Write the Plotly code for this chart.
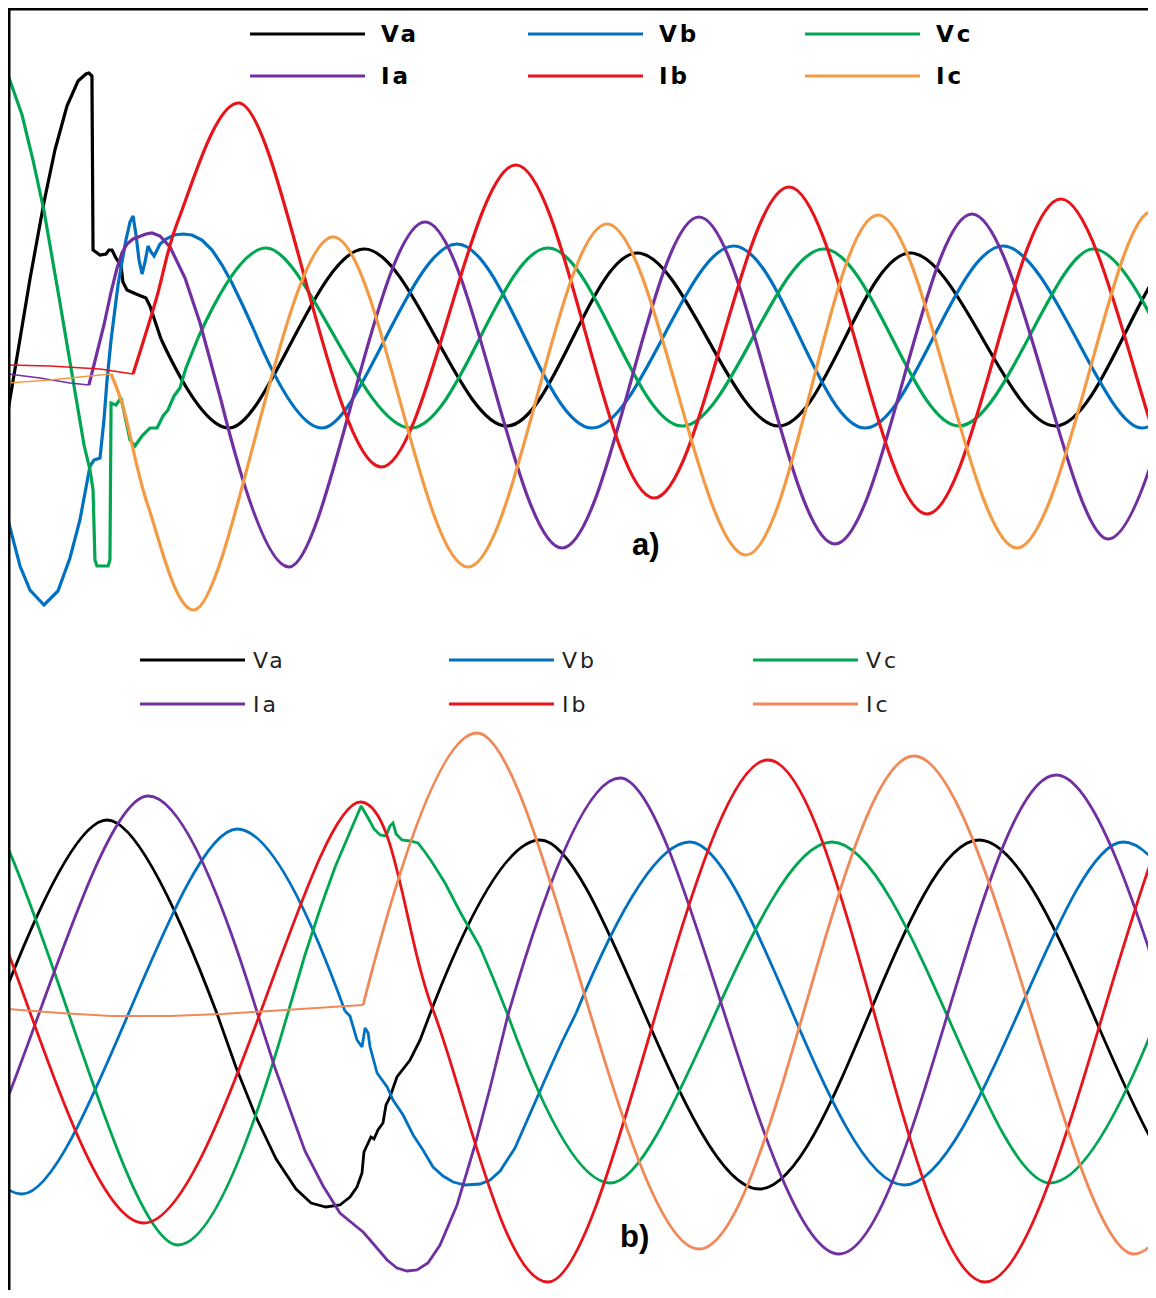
import plotly.graph_objects as go

# page has an 8 px body margin: the figure covers page pixels 8..1148 x 8..1290 (no overflow)
FW, FH = 1140, 1282
OFF = 8

# ---------------- colours ----------------
C_VA = "#000000"
C_VB = "#0070C0"
C_VC = "#00A651"
C_IA = "#7030A0"
C_IB = "#E8141B"
C_IC_A = "#F39A45"
C_IC_B = "#F08858"

LABELS_V = ["Va", "Vb", "Vc"]
LABELS_I = ["Ia", "Ib", "Ic"]

# ================= panel a) : time in ms, voltage in kV, current in kA =================
a_va_tr_t = [0.00, 1.03, 1.61, 2.64, 3.44, 4.32, 5.13, 5.71, 5.93, 6.15, 6.23, 6.74, 7.18, 7.40, 7.62, 7.91, 8.28, 8.42, 8.72, 9.38, 10.11, 10.40, 10.77, 11.21]
a_va_tr_v = [-7.2, 1.2, 6.0, 13.7, 18.9, 23.3, 25.8, 26.5, 26.6, 26.3, 8.9, 8.4, 8.5, 8.9, 8.9, 8.1, 7.3, 5.7, 4.9, 4.5, 4.1, 3.3, 1.7, 0.0]
a_va_sm_t = [11.21, 16.19, 26.08, 36.56, 46.08, 56.48, 66.08, 76.78, 86.08, 91.06]
a_va_sm_v = [0.0, -8.9, 9.0, -8.7, 8.6, -8.7, 8.6, -8.7, 8.8, 0.0]

a_vb_tr_t = [0.00, 0.88, 1.61, 2.64, 3.66, 4.54, 5.27, 5.64, 6.01, 6.30, 6.74, 7.03, 7.25, 7.55, 7.84, 8.06, 8.35, 8.64, 8.94, 9.16, 9.38, 9.60, 9.82, 10.04, 10.26, 10.48, 10.70, 10.92, 11.14, 11.58, 12.16, 12.82, 13.48, 14.21, 14.95, 15.68, 16.41, 17.22, 18.02]
a_vb_tr_v = [-18.1, -22.7, -25.1, -26.6, -25.2, -21.9, -18.1, -15.3, -12.7, -12.1, -11.9, -8.1, -4.2, -0.1, 2.9, 5.4, 7.7, 9.9, 11.7, 12.3, 10.4, 7.9, 6.5, 7.7, 9.3, 8.7, 8.3, 8.9, 9.5, 10.0, 10.4, 10.5, 10.4, 9.9, 8.9, 7.4, 5.6, 3.3, 0.9]
a_vb_sm_t = [18.02, 23.00, 32.89, 42.78, 53.19, 62.78, 72.89, 83.08, 88.06]
a_vb_sm_v = [0.9, -8.9, 9.5, -8.9, 9.3, -8.9, 9.3, -8.9, 0.2]

a_vc_tr_t = [0.00, 1.03, 1.83, 2.64, 3.81, 4.84, 5.57, 6.01, 6.23, 6.37, 6.52, 7.33, 7.47, 7.55, 7.91, 8.28, 8.57, 8.94, 9.30, 9.82, 10.40, 10.92, 11.36, 11.72, 12.16, 12.60, 13.04, 13.48, 13.92]
a_vc_tr_v = [26.4, 22.4, 17.9, 12.8, 3.6, -4.9, -10.6, -13.1, -15.1, -22.1, -22.7, -22.7, -22.1, -6.4, -6.6, -5.9, -7.6, -10.1, -10.7, -9.7, -8.9, -8.9, -7.7, -7.1, -5.7, -4.9, -2.9, -1.5, 0.1]
a_vc_sm_t = [13.92, 18.90, 29.52, 39.56, 49.38, 59.78, 69.67, 79.49, 84.47]
a_vc_sm_v = [0.1, 9.1, -8.9, 9.1, -8.7, 9.0, -8.7, 9.0, 0.2]

a_ia_pre_t = [0.00, 2.34, 4.54, 5.93]
a_ia_pre_i = [0.04, 0.00, -0.05, -0.07]
a_ia_tr_t = [5.93, 6.45, 7.03, 7.55, 7.99, 8.35, 8.72, 9.16, 9.67, 10.11, 10.55, 11.14, 11.87, 12.97, 14.07, 14.80, 15.60]
a_ia_tr_i = [-0.07, 0.22, 0.53, 0.86, 1.10, 1.25, 1.34, 1.39, 1.42, 1.44, 1.45, 1.42, 1.31, 1.00, 0.55, 0.19, -0.22]
a_ia_sm_t = [15.60, 20.59, 30.55, 40.59, 50.62, 60.59, 70.62, 80.59, 85.57]
a_ia_sm_i = [-0.22, -1.89, 1.56, -1.70, 1.61, -1.66, 1.64, -1.61, 0.01]

a_ib_pre_t = [0.00, 3.08, 6.74, 9.16]
a_ib_pre_i = [0.13, 0.12, 0.09, 0.04]
a_ib_sm_t = [9.16, 10.84, 12.45, 16.92, 27.33, 37.22, 47.33, 57.22, 67.33, 77.14, 87.11, 92.09]
a_ib_sm_i = [0.04, 0.78, 1.57, 2.75, -0.89, 2.13, -1.20, 1.91, -1.36, 1.79, -1.44, 0.16]

a_ic_pre_t = [0.00, 3.08, 6.01, 7.55]
a_ic_pre_i = [-0.05, -0.02, 0.02, 0.04]
a_ic_sm_t = [7.55, 8.35, 10.26, 13.63, 23.81, 33.70, 43.88, 54.07, 63.74, 73.92, 83.74, 88.72]
a_ic_sm_i = [0.04, -0.25, -1.28, -2.32, 1.41, -1.89, 1.54, -1.77, 1.63, -1.70, 1.66, -0.02]

# ================= panel b) =================
b_va_a_t = [-0.50, 4.53, 9.57]
b_va_a_v = [0.05, 9.70, 0.00]
b_va_tr_t = [9.57, 10.43, 11.35, 12.27, 13.18, 13.87, 14.55, 15.19, 15.65, 15.97, 16.20, 16.29, 16.48, 16.61, 16.75, 16.93, 17.16, 17.30, 17.48, 17.80, 18.40, 18.86, 19.31]
b_va_tr_v = [0.00, -2.65, -5.15, -7.25, -8.75, -9.45, -9.65, -9.55, -9.15, -8.65, -7.95, -6.90, -6.45, -6.15, -6.25, -5.80, -5.45, -4.55, -4.15, -3.15, -2.30, -1.30, 0.00]
b_va_c_t = [19.31, 24.35, 34.37, 44.44, 54.46, 59.50]
b_va_c_v = [0.00, 8.70, -8.75, 8.70, -8.75, 0.00]

b_vb_a_t = [-4.26, 0.64, 10.48, 15.42]
b_vb_a_v = [0.15, -9.00, 9.25, 0.15]
b_vb_tr_t = [15.42, 15.65, 15.97, 16.20, 16.34, 16.48, 16.57, 16.89, 17.35, 17.62, 18.08, 18.54, 18.99, 19.45, 19.91, 20.37, 20.92, 21.60, 22.06, 22.52, 23.20, 24.03, 24.81, 25.35, 26.00]
b_vb_tr_v = [0.15, -0.10, -1.30, -1.65, -0.70, -0.95, -1.65, -2.95, -3.65, -4.30, -5.05, -6.05, -6.80, -7.65, -8.10, -8.40, -8.55, -8.50, -8.30, -7.85, -6.70, -4.60, -2.70, -1.40, 0.05]
b_vb_c_t = [26.00, 31.21, 41.01, 51.03, 56.06]
b_vb_c_v = [0.05, 8.60, -8.55, 8.60, 0.05]

b_vc_a_t = [-7.23, -2.24, 7.78, 12.81]
b_vc_a_v = [0.05, 11.65, -11.55, 0.05]
b_vc_tr_t = [12.81, 13.59, 14.28, 14.97, 15.65, 16.16, 16.48, 16.75, 17.03, 17.30, 17.48, 17.62, 17.76, 18.03, 18.40, 18.76, 19.08, 19.40, 20.00, 20.69, 21.60, 22.20, 22.84]
b_vc_tr_v = [0.05, 2.95, 5.25, 7.35, 9.10, 10.40, 9.80, 9.25, 8.95, 8.90, 9.40, 9.55, 9.00, 8.70, 8.65, 8.55, 8.10, 7.60, 6.55, 5.10, 3.35, 1.80, 0.05]
b_vc_c_t = [22.84, 27.55, 37.71, 47.69, 52.68]
b_vc_c_v = [0.05, -8.45, 8.60, -8.45, 0.05]

b_ia_a_t = [-8.65, -3.62, 6.41, 11.44]
b_ia_a_i = [-0.03, -2.22, 2.16, -0.03]
b_ia_tr_t = [11.44, 12.22, 12.91, 13.59, 14.42, 15.19, 15.97, 16.25, 16.57, 16.89, 17.35, 17.80, 18.26, 18.72, 19.22, 19.77, 20.55, 21.37, 22.06, 22.88]
b_ia_tr_i = [-0.03, -0.56, -0.98, -1.39, -1.74, -2.01, -2.15, -2.20, -2.28, -2.36, -2.48, -2.56, -2.59, -2.58, -2.51, -2.33, -1.93, -1.33, -0.76, -0.03]
b_ia_c_t = [22.88, 28.01, 38.03, 47.96, 57.99, 63.02]
b_ia_c_i = [-0.03, 2.34, -2.42, 2.37, -2.42, -0.03]

b_ib_t = [-8.83, -3.80, 6.22, 16.16, 19.45, 24.71, 34.78, 44.71, 54.78, 59.82]
b_ib_i = [0.00, 2.11, -2.11, 2.10, 0.02, -2.70, 2.52, -2.70, 2.42, -0.08]

b_ic_pre_t = [0.00, 2.38, 4.71, 7.41, 9.79, 12.91, 16.25]
b_ic_pre_i = [0.03, -0.01, -0.04, -0.04, -0.02, 0.02, 0.07]
b_ic_sm_t = [16.25, 21.46, 31.62, 41.46, 51.53, 56.57]
b_ic_sm_i = [0.07, 2.79, -2.37, 2.56, -2.42, 0.07]

# ---------------- figure ----------------
fig = go.Figure()


def add(t, v, color, width, shape, xa, ya):
    line = dict(color=color, width=width, shape=shape)
    if shape == "spline":
        line["smoothing"] = 1.0
    fig.add_trace(go.Scatter(x=t, y=v, mode="lines", line=line, xaxis=xa, yaxis=ya,
                             showlegend=False, hoverinfo="skip"))


WA = 3.2
WB = 2.8
# panel a voltages
add(a_va_tr_t, a_va_tr_v, C_VA, WA, "linear", "x", "y")
add(a_va_sm_t, a_va_sm_v, C_VA, WA, "spline", "x", "y")
add(a_vb_tr_t, a_vb_tr_v, C_VB, WA, "linear", "x", "y")
add(a_vb_sm_t, a_vb_sm_v, C_VB, WA, "spline", "x", "y")
add(a_vc_tr_t, a_vc_tr_v, C_VC, WA, "linear", "x", "y")
add(a_vc_sm_t, a_vc_sm_v, C_VC, WA, "spline", "x", "y")
# panel a currents
add(a_ia_pre_t, a_ia_pre_i, C_IA, 1.6, "linear", "x", "y2")
add(a_ia_tr_t, a_ia_tr_i, C_IA, WA, "linear", "x", "y2")
add(a_ia_sm_t, a_ia_sm_i, C_IA, WA, "spline", "x", "y2")
add(a_ib_pre_t, a_ib_pre_i, C_IB, 1.6, "linear", "x", "y2")
add(a_ib_sm_t, a_ib_sm_i, C_IB, WA, "spline", "x", "y2")
add(a_ic_pre_t, a_ic_pre_i, C_IC_A, 1.6, "linear", "x", "y2")
add(a_ic_sm_t, a_ic_sm_i, C_IC_A, WA, "spline", "x", "y2")

# panel b voltages
add(b_va_a_t, b_va_a_v, C_VA, WB, "spline", "x2", "y3")
add(b_va_tr_t, b_va_tr_v, C_VA, WB, "linear", "x2", "y3")
add(b_va_c_t, b_va_c_v, C_VA, WB, "spline", "x2", "y3")
add(b_vb_a_t, b_vb_a_v, C_VB, WB, "spline", "x2", "y3")
add(b_vb_tr_t, b_vb_tr_v, C_VB, WB, "linear", "x2", "y3")
add(b_vb_c_t, b_vb_c_v, C_VB, WB, "spline", "x2", "y3")
add(b_vc_a_t, b_vc_a_v, C_VC, WB, "spline", "x2", "y3")
add(b_vc_tr_t, b_vc_tr_v, C_VC, WB, "linear", "x2", "y3")
add(b_vc_c_t, b_vc_c_v, C_VC, WB, "spline", "x2", "y3")
# panel b currents
add(b_ia_a_t, b_ia_a_i, C_IA, WB, "spline", "x2", "y4")
add(b_ia_tr_t, b_ia_tr_i, C_IA, WB, "linear", "x2", "y4")
add(b_ia_c_t, b_ia_c_i, C_IA, WB, "spline", "x2", "y4")
add(b_ib_t, b_ib_i, C_IB, WB, "spline", "x2", "y4")
add(b_ic_pre_t, b_ic_pre_i, C_IC_B, 2.0, "linear", "x2", "y4")
add(b_ic_sm_t, b_ic_sm_i, C_IC_B, WB, "spline", "x2", "y4")


def PX(x):
    return (x - OFF) / FW


def PY(y):
    return 1 - (y - OFF) / FH


split = PY(640)

fig.update_layout(
    width=FW, height=FH,
    margin=dict(l=0, r=0, t=0, b=0),
    paper_bgcolor="white", plot_bgcolor="white",
    showlegend=False,
    xaxis=dict(domain=[0, 1], range=[0, 83.52], visible=False, anchor="y"),
    yaxis=dict(domain=[split, 1], range=[-30.1, 33.1], visible=False, anchor="x"),
    yaxis2=dict(range=[-2.62, 3.70], overlaying="y", anchor="x", visible=False),
    xaxis2=dict(domain=[0, 1], range=[0, 52.17], visible=False, anchor="y3"),
    yaxis3=dict(domain=[0, split], range=[-13.8, 18.7], visible=False, anchor="x2"),
    yaxis4=dict(range=[-2.78, 3.72], overlaying="y3", anchor="x2", visible=False),
)

shapes = []
annotations = []

# frame (left and top border)
shapes.append(dict(type="line", xref="paper", yref="paper", x0=0, x1=0, y0=0, y1=1,
                   line=dict(color="black", width=5)))
shapes.append(dict(type="line", xref="paper", yref="paper", x0=0, x1=1, y0=1, y1=1,
                   line=dict(color="black", width=5)))


def legend_block(rows_y, cols, line_len, gap, colors_rows, labels_rows, font, spacing):
    for r, yy in enumerate(rows_y):
        for c, xx in enumerate(cols):
            shapes.append(dict(type="line", xref="paper", yref="paper",
                               x0=PX(xx), x1=PX(xx + line_len), y0=PY(yy), y1=PY(yy),
                               line=dict(color=colors_rows[r][c], width=3)))
            annotations.append(dict(xref="paper", yref="paper", x=PX(xx + line_len + gap), y=PY(yy),
                                    xanchor="left", yanchor="middle", showarrow=False,
                                    text="<span style='letter-spacing:%dpx'>%s</span>" % (spacing, labels_rows[r][c]),
                                    font=font))


legend_block([34, 76], [250, 528, 805], 115, 14,
             [[C_VA, C_VB, C_VC], [C_IA, C_IB, C_IC_A]], [LABELS_V, LABELS_I],
             dict(family="DejaVu Sans", size=23, color="black", weight="bold"), 3)
legend_block([660, 704], [140, 449, 753], 105, 6,
             [[C_VA, C_VB, C_VC], [C_IA, C_IB, C_IC_B]], [LABELS_V, LABELS_I],
             dict(family="DejaVu Sans", size=22, color="#222222"), 3)

annotations.append(dict(xref="paper", yref="paper", x=PX(646), y=PY(544), xanchor="center", yanchor="middle",
                        showarrow=False, text="a)",
                        font=dict(family="Liberation Sans Narrow, Liberation Sans", size=31, color="black", weight="bold")))
annotations.append(dict(xref="paper", yref="paper", x=PX(634), y=PY(1236), xanchor="center", yanchor="middle",
                        showarrow=False, text="b)",
                        font=dict(family="Liberation Sans Narrow, Liberation Sans", size=31, color="black", weight="bold")))

fig.update_layout(shapes=shapes, annotations=annotations)
fig.write_html("out.html")
